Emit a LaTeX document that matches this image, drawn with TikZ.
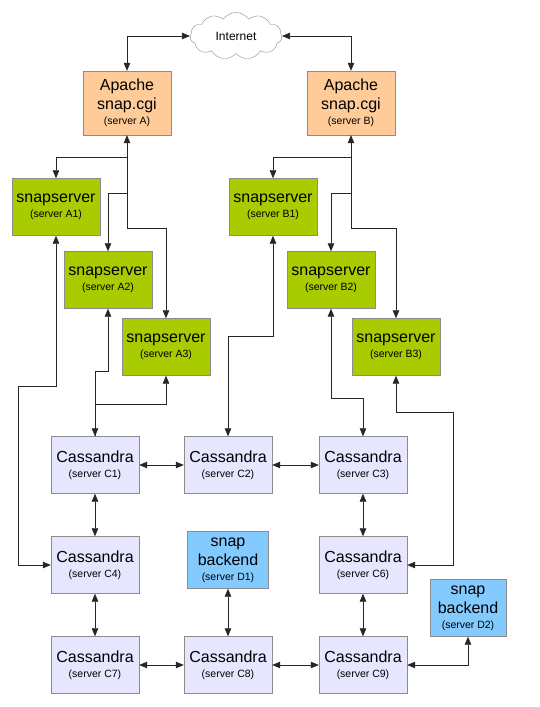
\documentclass[tikz,border=0pt]{standalone}
\usepackage{fontspec}
\setmainfont{Liberation Sans}
\usetikzlibrary{arrows.meta}
\usetikzlibrary{shapes.symbols}

\definecolor{apachefill}{HTML}{FFCC99}
\definecolor{snapfill}{HTML}{A8CC00}
\definecolor{cassfill}{HTML}{E6E6FF}
\definecolor{backendfill}{HTML}{83CAFF}
\newcommand{\srv}[1]{\\[-4bp]{\fontsize{10.5bp}{12bp}\selectfont(server #1)}}

\begin{document}
\begin{tikzpicture}[x=1bp, y=-1bp,
    >={Triangle[length=8bp, width=6.5bp]},
    box/.style={draw=black!45, inner sep=0pt, minimum width=88bp, minimum height=57bp,
                align=center, font=\fontsize{16bp}{19bp}\selectfont},
    apache/.style={box, fill=apachefill, minimum height=64bp},
    snap/.style={box, fill=snapfill},
    cass/.style={box, fill=cassfill},
    backend/.style={box, fill=backendfill, minimum width=81bp},
    link/.style={draw=black!85, line width=0.7bp}]
\useasboundingbox (0,0) rectangle (540,707);

\node[cloud, draw=black!45, cloud puffs=11, cloud puff arc=110, aspect=2, inner sep=0pt,
      minimum width=92bp, minimum height=47bp, font=\fontsize{12bp}{14bp}\selectfont] (net) at (236,36) {Internet};
\node[apache] (apA) at (127,103) {Apache\\snap.cgi\srv{A}};
\node[apache] (apB) at (351,103) {Apache\\snap.cgi\srv{B}};

\node[snap] (A1) at (56,207) {snapserver\srv{A1}};
\node[snap] (A2) at (108,280) {snapserver\srv{A2}};
\node[snap] (A3) at (166,347) {snapserver\srv{A3}};
\node[snap] (B1) at (273,207) {snapserver\srv{B1}};
\node[snap] (B2) at (331,280) {snapserver\srv{B2}};
\node[snap] (B3) at (396,347) {snapserver\srv{B3}};

\node[cass] (C1) at (95,465) {Cassandra\srv{C1}};
\node[cass] (C2) at (228,465) {Cassandra\srv{C2}};
\node[cass] (C3) at (363,465) {Cassandra\srv{C3}};
\node[cass] (C4) at (95,565) {Cassandra\srv{C4}};
\node[backend] (D1) at (228,560) {snap\\backend\srv{D1}};
\node[cass] (C6) at (363,565) {Cassandra\srv{C6}};
\node[backend, minimum width=76bp] (D2) at (468,608) {snap\\backend\srv{D2}};
\node[cass] (C7) at (95,665) {Cassandra\srv{C7}};
\node[cass] (C8) at (228,665) {Cassandra\srv{C8}};
\node[cass] (C9) at (363,665) {Cassandra\srv{C9}};

%%%%%%%%%%%%%%%%%%%%%%%%%%%%%%%%%%%%%%%%

\draw[link, <->] (net.west) -| (apA.north);
\draw[link, <->] (net.east) -| (apB.north);

\draw[link, <->] (apA.south) -- ++(0,93) -| (A3.north);
\draw[link, ->] (apA.south) ++(0,22) -| (A1.north);
\draw[link, ->] (apA.south) ++(0,58) -| (A2.north);
\draw[link, <->] (apB.south) -- ++(0,93) -| (B3.north);
\draw[link, ->] (apB.south) ++(0,22) -| (B1.north);
\draw[link, ->] (apB.south) ++(0,58) -| (B2.north);

%%%%%%%%%%%%%%%%%%%%%%%%%%%%%%%%%%%%%%%%

\draw[link, <->] (A1.south) -- ++(0,151) -- ++(-38,0) |- (C4.west);
\draw[link, <->] (A2.south) -- ++(0,63) -| (C1.north);
\draw[link, <-] (A3.south) -- ++(0,29) -| (C1.north);
\draw[link, <->] (B1.south) -- ++(0,101) -| (C2.north);
\draw[link, <->] (B2.south) -- ++(0,90) -| (C3.north);
\draw[link, <->] (B3.south) -- ++(0,37) -- ++(57,0) |- (C6.east);

\draw[link, <->] (C1) -- (C2);
\draw[link, <->] (C2) -- (C3);
\draw[link, <->] (C7) -- (C8);
\draw[link, <->] (C8) -- (C9);
\draw[link, <->] (C1) -- (C4);
\draw[link, <->] (C4) -- (C7);
\draw[link, <->] (C3) -- (C6);
\draw[link, <->] (C6) -- (C9);
\draw[link, <->] (D1) -- (C8);
\draw[link, <->] (C9.east) -| (D2.south);

\end{tikzpicture}
\end{document}
